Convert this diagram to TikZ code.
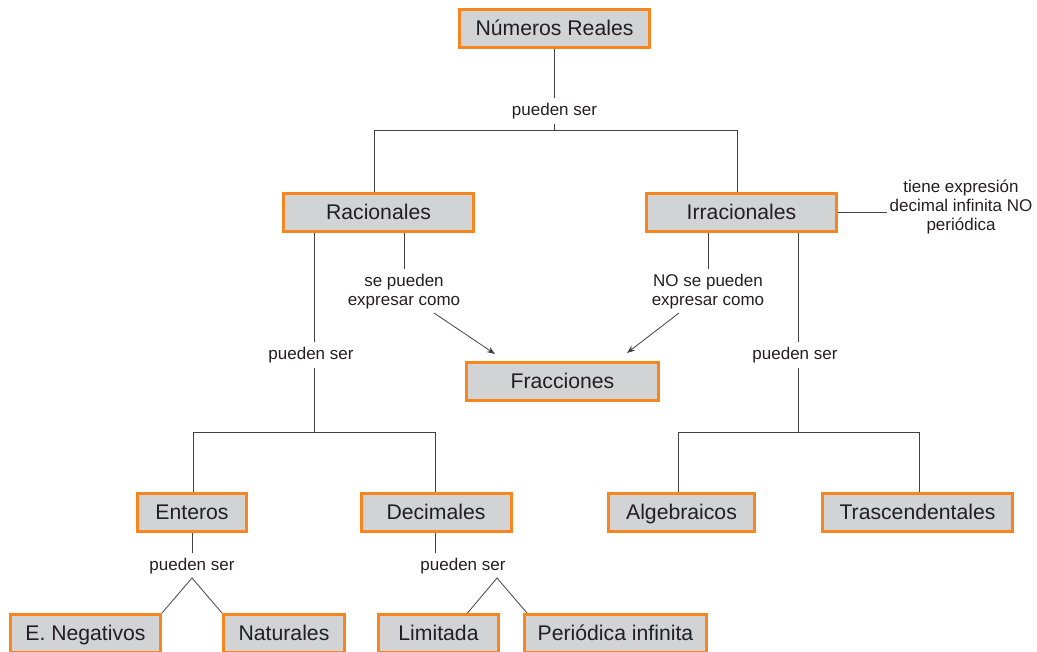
\documentclass[tikz,border=0pt]{standalone}
\usepackage{fontspec}
\setmainfont{Liberation Sans}
\usetikzlibrary{arrows.meta}
\definecolor{boxorange}{HTML}{F7861E}
\definecolor{boxgray}{HTML}{D1D3D4}
\definecolor{inkgray}{HTML}{231F20}
\begin{document}
\begin{tikzpicture}[x=1pt, y=-1pt,
    box/.style={draw=boxorange, line width=3pt, fill=boxgray, text=inkgray,
        font=\fontsize{21.2}{25}\selectfont, minimum height=38pt, inner sep=0pt,
        text height=18pt, text depth=4pt},
    lbl/.style={text=inkgray, font=\fontsize{17}{19}\selectfont, align=center,
        inner xsep=2pt, inner ysep=5pt},
    link/.style={draw=inkgray!85, line width=0.8pt},
    arr/.style={link, -{Stealth[length=8pt, width=6pt]}}]
        \useasboundingbox (0,0) rectangle (1037,652);
        % boxes
        \node [box, minimum width=190pt] (reales) at (554.5, 28.5) {Números Reales};
        \node [box, minimum width=190pt] (racionales) at (378.5, 212.5) {Racionales};
        \node [box, minimum width=190pt] (irracionales) at (741.5, 212.5) {Irracionales};
        \node [box, minimum width=192pt] (fracciones) at (562.5, 381.5) {Fracciones};
        \node [box, minimum width=109pt] (enteros) at (192, 512.5) {Enteros};
        \node [box, minimum width=150pt] (decimales) at (436, 512.5) {Decimales};
        \node [box, minimum width=146pt] (algebraicos) at (681.5, 512.5) {Algebraicos};
        \node [box, minimum width=190pt] (trasc) at (917.5, 512.5) {Trascendentales};
        \node [box, minimum width=150pt] (negativos) at (85.5, 633.5) {E. Negativos};
        \node [box, minimum width=121pt] (naturales) at (284, 633.5) {Naturales};
        \node [box, minimum width=120pt] (limitada) at (438.5, 633.5) {Limitada};
        \node [box, minimum width=182pt] (periodica) at (615.5, 633.5) {Periódica infinita};
        % labels
        \node [lbl, anchor=north] (pr) at (554.5, 98) {pueden ser};
        \node [lbl, anchor=north] (sp) at (404, 269) {se pueden\\expresar como};
        \node [lbl, anchor=north] (nsp) at (708, 269) {NO se pueden\\expresar como};
        \node [lbl] (tiene) at (961, 207) {tiene expresión\\decimal infinita NO\\periódica};
        \node [lbl, anchor=north] (pra) at (311, 342) {pueden ser};
        \node [lbl, anchor=north] (pir) at (795, 342) {pueden ser};
        \node [lbl, anchor=north] (pen) at (192, 553) {pueden ser};
        \node [lbl, anchor=north] (pde) at (463, 553) {pueden ser};
        % junctions
        \coordinate (j1) at (554.5, 130);
        \coordinate (j1l) at (374, 130);
        \coordinate (j1r) at (737, 130);
        \coordinate (j2) at (314, 432);
        \coordinate (j2l) at (193, 432);
        \coordinate (j2r) at (435, 432);
        \coordinate (j3) at (798, 432);
        \coordinate (j3l) at (678, 432);
        \coordinate (j3r) at (919, 432);
        \coordinate (j4) at (192, 578);
        \coordinate (j5) at (497, 578);
        \coordinate (a1) at (434, 313);
        \coordinate (a2) at (679, 313);
        % connectors
        \draw [link] (reales) -- (pr);
        \draw [link] (pr) -- (j1);
        \draw [link] (racionales.north -| j1l) -- (j1l) -- (j1r) -- (irracionales.north -| j1r);
        \draw [link] (racionales.south -| sp) -- (sp);
        \draw [link] (irracionales.south -| nsp) -- (nsp);
        \draw [arr] (a1) -- ([xshift=30pt, yshift=7pt]fracciones.north west);
        \draw [arr] (a2) -- ([xshift=-33pt, yshift=8pt]fracciones.north east);
        \draw [link] (irracionales.east) -- (irracionales.east -| tiene.west);
        \draw [link] (racionales.south -| j2) -- (j2 |- pra.north);
        \draw [link] (j2 |- pra.south) -- (j2);
        \draw [link] (enteros.north -| j2l) -- (j2l) -- (j2r) -- (decimales.north -| j2r);
        \draw [link] (irracionales.south -| j3) -- (j3 |- pir.north);
        \draw [link] (j3 |- pir.south) -- (j3);
        \draw [link] (algebraicos.north -| j3l) -- (j3l) -- (j3r) -- (trasc.north -| j3r);
        \draw [link] (enteros) -- (pen);
        \draw [link] (pen) -- (j4);
        \draw [link] (negativos.north east) -- (j4) -- (naturales.north west);
        \draw [link] (decimales.south -| j2r) -- (j2r |- pde.north);
        \draw [link] ([xshift=29pt]limitada.north) -- (j5) -- ([xshift=4pt]periodica.north west);
\end{tikzpicture}
\end{document}
